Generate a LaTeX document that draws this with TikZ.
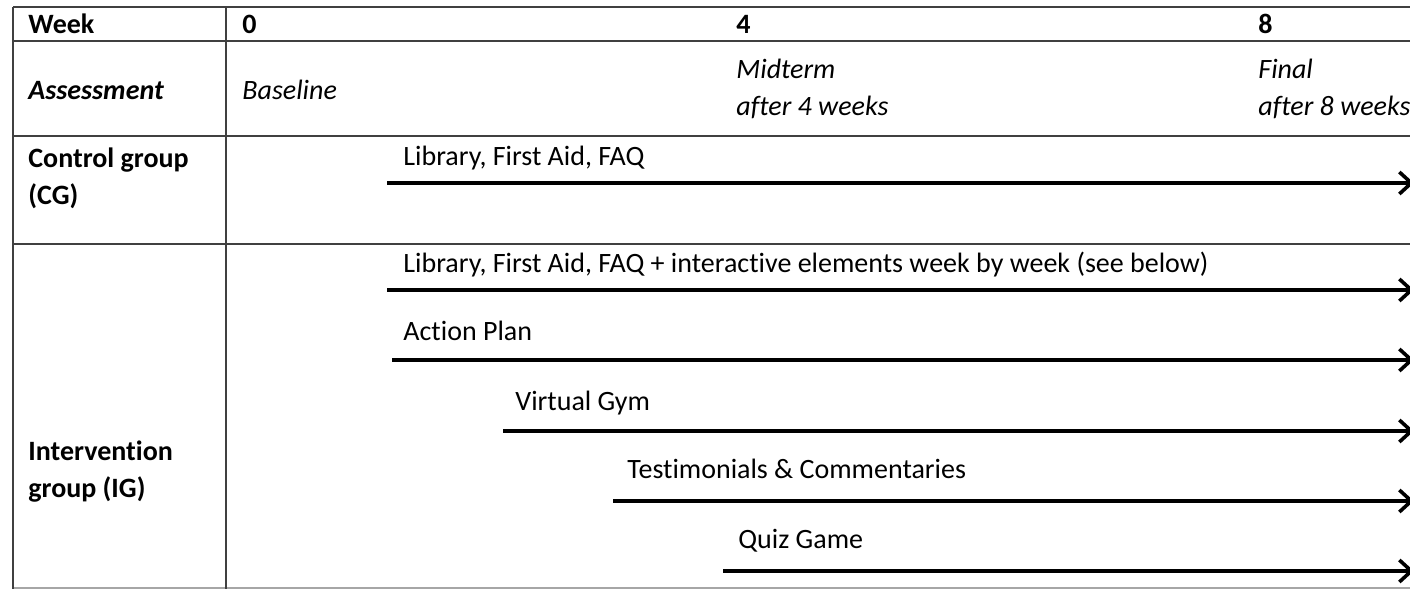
\documentclass[tikz,border=0pt]{standalone}
\usepackage{fontspec}
\setmainfont{Carlito}[Ligatures=NoCommon]
\usetikzlibrary{arrows.meta}
\tikzset{
  rule/.style={line width=0.8pt,black!75},
  txt/.style={anchor=base west,inner sep=0pt,font=\fontsize{14}{18.5}\selectfont},
  bar/.style={line width=2.2pt,-{Straight Barb[length=6pt,width=11pt,line width=1.8pt]}}
}
\begin{document}
\begin{tikzpicture}[x=0.5pt,y=-0.5pt]
      \useasboundingbox (0,0) rectangle (1410,589);
      % table grid
      \draw[rule] (13,7) -- (1410,7);
      \draw[rule] (13,41) -- (1410,41);
      \draw[rule] (13,136) -- (1410,136);
      \draw[rule] (13,244) -- (1410,244);
      \draw[rule,black!35] (13,588) -- (1410,588);
      \draw[rule] (13,7) -- (13,589);
      \draw[rule] (226,7) -- (226,589);
      % header rows
      \node[txt,font=\fontsize{14}{18.5}\selectfont\bfseries] (week) at (28,33) {Week};
      \node[txt,font=\fontsize{14}{18.5}\selectfont\bfseries] (w0) at (242,33) {0};
      \node[txt,font=\fontsize{14}{18.5}\selectfont\bfseries] (w4) at (736,33) {4};
      \node[txt,font=\fontsize{14}{18.5}\selectfont\bfseries] (w8) at (1258,33) {8};
      \node[txt,font=\fontsize{14}{18.5}\selectfont\bfseries\itshape] (assess) at (28,99) {Assessment};
      \node[txt,font=\fontsize{14}{18.5}\selectfont\itshape] (base) at (242,99) {Baseline};
      \node[txt,font=\fontsize{14}{18.5}\selectfont\itshape,align=left] (mid) at (736,115) {Midterm\\after 4 weeks};
      \node[txt,font=\fontsize{14}{18.5}\selectfont\itshape,align=left] (fin) at (1258,115) {Final\\after 8 weeks};
      % groups
      \node[txt,font=\fontsize{14}{18.5}\selectfont\bfseries,align=left] (cg) at (28,204) {Control group\\(CG)};
      \node[txt,font=\fontsize{14}{18.5}\selectfont\bfseries,align=left] (ig) at (28,497) {Intervention\\group (IG)};
      % control group
      \node[txt] (cglib) at (403,165) {Library, First Aid, FAQ};
      \coordinate (cgs) at (387,183);
      \coordinate (cge) at (1414,183);
      \draw[bar] (cgs) -- (cge);
      % intervention group
      \node[txt] (iglib) at (403,272) {Library, First Aid, FAQ + interactive elements week by week (see below)};
      \coordinate (iglibs) at (387,290);
      \coordinate (iglibe) at (1414,290);
      \draw[bar] (iglibs) -- (iglibe);
      \node[txt] (plan) at (403,340) {Action Plan};
      \coordinate (plans) at (392,360);
      \coordinate (plane) at (1414,360);
      \draw[bar] (plans) -- (plane);
      \node[txt] (gym) at (515,410) {Virtual Gym};
      \coordinate (gyms) at (503,431);
      \coordinate (gyme) at (1414,431);
      \draw[bar] (gyms) -- (gyme);
      \node[txt] (testi) at (627,478) {Testimonials \& Commentaries};
      \coordinate (testis) at (613,501);
      \coordinate (testie) at (1414,501);
      \draw[bar] (testis) -- (testie);
      \node[txt] (quiz) at (738,548) {Quiz Game};
      \coordinate (quizs) at (723,571);
      \coordinate (quize) at (1414,571);
      \draw[bar] (quizs) -- (quize);
\end{tikzpicture}
\end{document}
